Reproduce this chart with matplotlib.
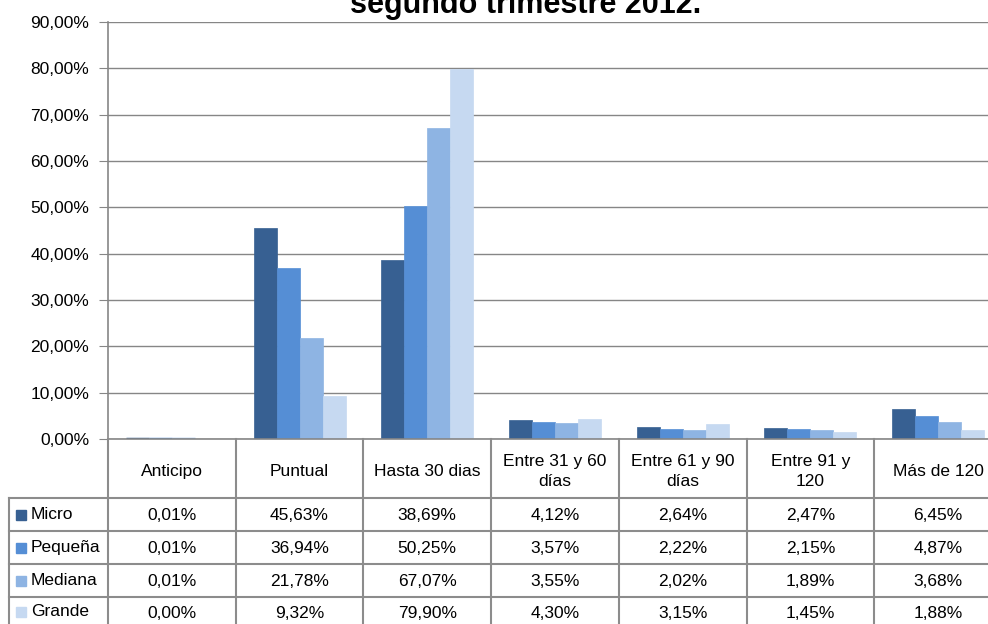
import matplotlib.pyplot as plt
import numpy as np
from matplotlib.lines import Line2D
from matplotlib.patches import Rectangle
from matplotlib.ticker import FuncFormatter

plt.rcParams['font.family'] = ['Liberation Sans', 'DejaVu Sans']

# datos de la tabla
categorias = ['Anticipo', 'Puntual', 'Hasta 30 dias', 'Entre 31 y 60\ndías',
              'Entre 61 y 90\ndías', 'Entre 91 y\n120', 'Más de 120']
series = ['Micro', 'Pequeña', 'Mediana', 'Grande']
micro = [0.01, 45.63, 38.69, 4.12, 2.64, 2.47, 6.45]
pequena = [0.01, 36.94, 50.25, 3.57, 2.22, 2.15, 4.87]
mediana = [0.01, 21.78, 67.07, 3.55, 2.02, 1.89, 3.68]
grande = [0.00, 9.32, 79.90, 4.30, 3.15, 1.45, 1.88]
valores = [micro, pequena, mediana, grande]
colores = ['#376092', '#558ED5', '#8EB4E3', '#C6D9F1']

W, H = 988, 624
fig = plt.figure(figsize=(W / 100, H / 100), dpi=100)


def fx(x):
    return x / W


def fy(y):
    return 1 - y / H


# geometria en pixeles
x0, colw = 108, 127.7
ytop, ybase = 22, 439
ax = fig.add_axes([fx(x0), fy(ybase), fx(7 * colw), (ybase - ytop) / H])

bw = 0.18
for j, (s, v) in enumerate(zip(series, valores)):
    # borde del mismo color para que las barras casi nulas se vean como en Excel
    bordes = [colores[j] if val > 0 else 'none' for val in v]
    grosor = [2.5 if 0 < val < 0.5 else 0.5 for val in v]
    ax.bar(np.arange(7) + (j - 1.5) * bw, v, width=bw, color=colores[j],
           edgecolor=bordes, linewidth=grosor, label=s, zorder=3)

ax.set_xlim(-0.5, 6.5)
ax.set_ylim(0, 90)
ax.set_yticks(np.arange(0, 91, 10))
ax.yaxis.set_major_formatter(FuncFormatter(lambda v, p: f'{v:.2f}%'.replace('.', ',')))
ax.set_xticks([])
ax.grid(axis='y', color='#868686', linewidth=1, zorder=0)
for sp in ['top', 'right']:
    ax.spines[sp].set_visible(False)
ax.spines['left'].set_color('#868686')
ax.spines['bottom'].set_color('#868686')
ax.spines['left'].set_linewidth(1.2)
ax.spines['bottom'].set_linewidth(1.2)
ax.spines['bottom'].set_zorder(4)
ax.tick_params(axis='y', length=6.5, color='#868686', labelsize=12.5, pad=7)

# titulo (cortado arriba)
fig.text(fx(526), fy(13), 'segundo trimestre 2012.', ha='center', va='baseline',
         fontsize=22, fontweight='bold')

# tabla de datos
gris = '#8c8c8c'
filas = [439, 498, 531, 564, 597, 630]
xl = 9
fs = 12.5


def linea(xa, ya, xb, yb):
    fig.add_artist(Line2D([fx(xa), fx(xb)], [fy(ya), fy(yb)], color=gris,
                          linewidth=1.5))


xr = x0 + 7 * colw
for k in range(8):
    xc = x0 + k * colw
    linea(xc, filas[0], xc, filas[-1])
linea(xl, filas[1], xl, filas[-1])
for yr in filas[1:-1]:
    linea(xl, yr, xr, yr)

for i, c in enumerate(categorias):
    fig.text(fx(x0 + (i + 0.5) * colw), fy((filas[0] + filas[1]) / 2 + 3), c,
             ha='center', va='center', fontsize=fs, linespacing=1.45)

for j, (s, v) in enumerate(zip(series, valores)):
    yc = (filas[j + 1] + filas[j + 2]) / 2 if j < 3 else 612
    fig.add_artist(Rectangle((fx(16), fy(yc + 5)), fx(10), 10 / H,
                             color=colores[j], transform=fig.transFigure))
    fig.text(fx(31), fy(yc), s, ha='left', va='center', fontsize=fs)
    for i, val in enumerate(v):
        fig.text(fx(x0 + (i + 0.5) * colw), fy(yc + 1),
                 f'{val:.2f}%'.replace('.', ','),
                 ha='center', va='center', fontsize=fs)

fig.savefig('out.png', dpi=100)
